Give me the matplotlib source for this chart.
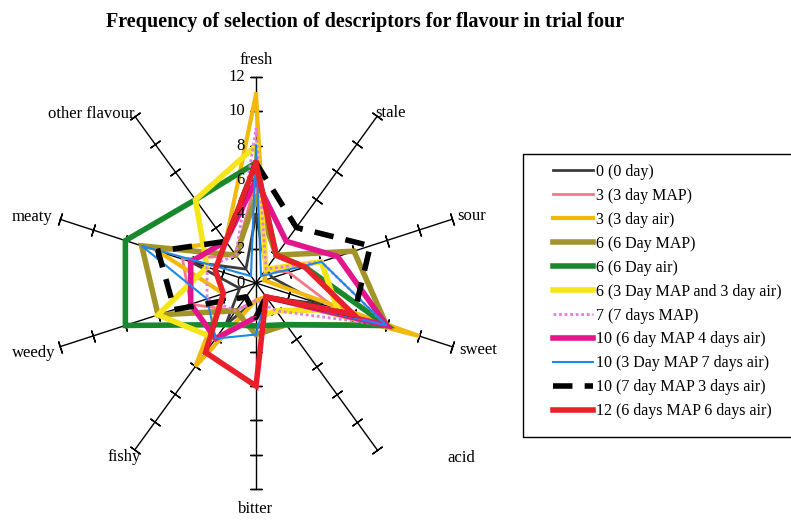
import numpy as np
import matplotlib.pyplot as plt
from matplotlib.patches import Rectangle

axes_names = ['fresh', 'stale', 'sour', 'sweet', 'acid', 'bitter',
              'fishy', 'weedy', 'meaty', 'other flavour']

series_names = ['0 (0 day)', '3 (3 day MAP)', '3 (3 day air)', '6 (6 Day MAP)',
                '6 (6 Day air)', '6 (3 Day MAP and 3 day air)', '7 (7 days MAP)',
                '10 (6 day MAP 4 days air)', '10 (3 Day MAP 7 days air)',
                '10 (7 day MAP 3 days air)', '12 (6 days MAP 6 days air)']

# frequencies, order follows axes_names
day0 = [4, 1, 1, 4, 1, 1, 3, 1, 4, 1]
map3 = [6, 1, 2, 5, 1, 1, 2, 4, 4.5, 2]
air3 = [11, 1, 0.5, 10, 1, 1, 6, 2, 6, 3]
map6 = [5, 2, 6, 8, 3, 3, 2, 6, 7, 2]
air6 = [7, 2, 3, 8, 3, 2.5, 3, 8, 8, 6]
map3air3 = [8, 1, 4, 5, 2, 2, 4, 6, 3, 6]
map7 = [9, 1, 4, 8, 2, 1, 2, 3, 3, 2]
map6air4 = [6, 3, 5, 8, 1, 2, 4, 4, 4, 3]
map3air7 = [8, 0.5, 4, 8, 1, 3, 4, 3, 7, 0.5]
map7air3 = [7, 4, 7, 6, 1, 2, 1, 5, 6, 3]
map6air6 = [7, 2, 3, 6, 1, 6, 5, 2, 2.5, 3]

values = [day0, map3, air3, map6, air6, map3air3, map7, map6air4,
          map3air7, map7air3, map6air6]

styles = [
    dict(color='#3c3c3c', lw=2.0),
    dict(color='#f07a8a', lw=2.0),
    dict(color='#f0b90c', lw=3.0),
    dict(color='#a39428', lw=4.0),
    dict(color='#17892c', lw=4.0),
    dict(color='#f7e51c', lw=4.0),
    dict(color='#e47ae4', lw=2.0, ls=(0, (1, 1))),
    dict(color='#e2158c', lw=4.0),
    dict(color='#1e88e5', lw=1.5),
    dict(color='black', lw=4.0, ls=(0, (3.5, 2.2))),
    dict(color='#e8202a', lw=4.0),
]

plt.rcParams['font.family'] = 'Liberation Serif'

fig = plt.figure(figsize=(7.91, 5.21), dpi=100)
ax = fig.add_axes([0.0632, 0.0614, 0.5209, 0.7908], projection='polar')
ax.set_theta_offset(np.pi / 2)
ax.set_theta_direction(-1)
ax.set_ylim(0, 12)
ax.grid(False)
ax.spines['polar'].set_visible(False)
ax.set_xticks([])
ax.set_yticks([])
ax.patch.set_alpha(0)

n = len(axes_names)
theta = np.arange(n) * 2 * np.pi / n
ticks = np.arange(2, 13, 2)

# spokes with cross ticks
for t in theta:
    ax.plot([t, t], [0, 12], color='black', lw=1.0, clip_on=False, zorder=1)
    screen_angle = np.degrees(np.pi / 2 - t)
    ax.plot([t] * len(ticks), ticks, ls='none', marker=(2, 2, screen_angle),
            ms=9, mec='black', mew=1.0, clip_on=False, zorder=1)

# value labels on the fresh axis
for v in range(0, 13, 2):
    ax.annotate(str(v), (0, v), xytext=(-8, 0), textcoords='offset points',
                ha='right', va='center', fontsize=12)

# category labels: offset in pixels from the spoke end
label_pos = {
    'fresh': ((0, 17), 'center'),
    'stale': ((-2, 3), 'left'),
    'sour': ((5, 3), 'left'),
    'sweet': ((7, -3), 'left'),
    'acid': ((70, -8), 'left'),
    'bitter': ((0, -20), 'center'),
    'fishy': ((-11, -7), 'center'),
    'weedy': ((-5, -6), 'right'),
    'meaty': ((-8, 2), 'right'),
    'other flavour': ((0, 2), 'right'),
}
for t, name in zip(theta, axes_names):
    off, ha = label_pos[name]
    ax.annotate(name, (t, 12), xytext=off, textcoords='offset pixels',
                ha=ha, va='center', fontsize=12, annotation_clip=False)

closed = np.append(theta, theta[0])
handles = []
for name, vals, st in zip(series_names, values, styles):
    v = np.append(vals, vals[0])
    line, = ax.plot(closed, v, label=name, clip_on=False, zorder=2,
                    solid_joinstyle='miter', **st)
    handles.append(line)

fig.text(0.462, 0.957, 'Frequency of selection of descriptors for flavour in trial four',
         ha='center', va='center', fontsize=14.5, fontweight='bold')

leg = fig.legend(handles=handles, loc='upper left', bbox_to_anchor=(0.699, 0.686),
                 borderaxespad=0, fontsize=11.5, frameon=False,
                 handlelength=2.5, handletextpad=0.2, labelspacing=0.5,
                 borderpad=0)
fig.patches.append(Rectangle((523 / 791, 1 - 437 / 521), 280 / 791, 283 / 521,
                             transform=fig.transFigure, fill=False,
                             ec='black', lw=1.0))

fig.savefig('out.png', dpi=100)
